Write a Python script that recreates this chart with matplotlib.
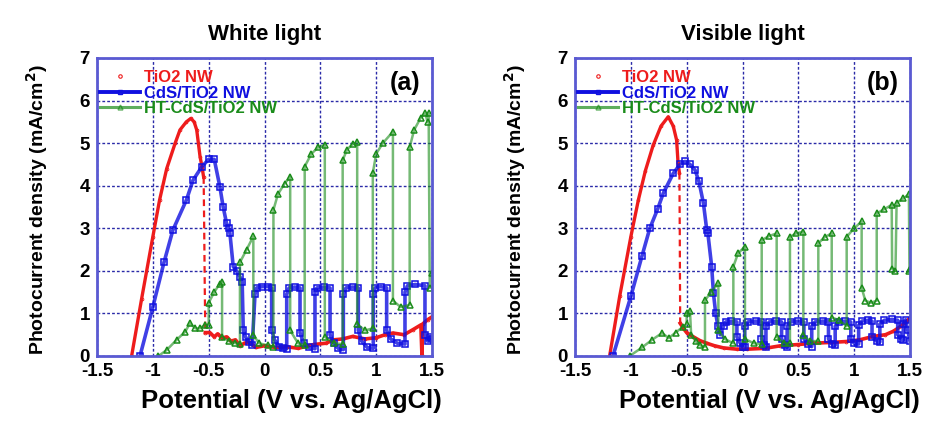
"""
Photocurrent vs potential (chopped light) for TiO2 NW, CdS/TiO2 NW and
HT-CdS/TiO2 NW under white light (a) and visible light (b).
"""

import matplotlib
matplotlib.use("Agg")
import matplotlib.pyplot as plt
from matplotlib.lines import Line2D

plt.rcParams["font.family"] = ["Liberation Sans", "DejaVu Sans"]
plt.rcParams["font.weight"] = "bold"

# ============================================================
# DATA
# ============================================================

SERIES_LABELS = ["TiO2 NW", "CdS/TiO2 NW", "HT-CdS/TiO2 NW"]
X_TICKS = [-1.5, -1, -0.5, 0, 0.5, 1, 1.5]
X_TICK_LABELS = ["-1.5", "-1", "-0.5", "0", "0.5", "1", "1.5"]
Y_TICKS = [0, 1, 2, 3, 4, 5, 6, 7]

# --- (a) White light ---
white_tio2_v = [-1.19, -1.10, -1.00, -0.94, -0.876, -0.80, -0.757, -0.70, -0.66,
                -0.63, -0.607, -0.577, -0.56, -0.545]
white_tio2_j = [0.0, 1.35, 2.8, 3.66, 4.4, 5.0, 5.31, 5.5, 5.58,
                5.5, 5.31, 4.68, 4.45, 4.2]
white_tio2_drop_v = [-0.545, -0.54, -0.535, -0.53]
white_tio2_drop_j = [4.2, 3.0, 1.6, 0.55]
white_tio2_tail_v = [-0.53, -0.49, -0.45, -0.42, -0.38, -0.34, -0.30, -0.26, -0.22,
                     -0.18, -0.13, -0.08, 0.0, 0.10, 0.20, 0.30, 0.44, 0.55, 0.62,
                     0.70, 0.79, 0.90, 1.00, 1.08, 1.15, 1.25, 1.33, 1.40, 1.41,
                     1.415, 1.46, 1.50]
white_tio2_tail_j = [0.55, 0.55, 0.45, 0.52, 0.42, 0.45, 0.35, 0.38, 0.24,
                     0.30, 0.32, 0.20, 0.24, 0.20, 0.22, 0.18, 0.27, 0.30, 0.38,
                     0.40, 0.46, 0.40, 0.43, 0.50, 0.54, 0.50, 0.62, 0.73, 0.02,
                     0.75, 0.85, 0.92]

white_cds_v = [-1.115, -1.00, -0.90, -0.82, -0.70, -0.64, -0.56, -0.50, -0.45,
               -0.40, -0.37, -0.34, -0.32, -0.31, -0.28, -0.25, -0.22, -0.20,
               -0.19, -0.17, -0.14, -0.11,
               -0.085, -0.07, -0.02, 0.03, 0.064,
               0.064, 0.09, 0.13, 0.17, 0.199,
               0.199, 0.22, 0.27, 0.318,
               0.318, 0.35, 0.40, 0.452,
               0.452, 0.47, 0.53, 0.587,
               0.587, 0.62, 0.66, 0.706,
               0.706, 0.73, 0.79, 0.840,
               0.840, 0.87, 0.92, 0.974,
               0.974, 0.99, 1.04, 1.094,
               1.094, 1.13, 1.19, 1.258,
               1.258, 1.28, 1.35, 1.437,
               1.437, 1.46, 1.48, 1.50]
white_cds_j = [0.0, 1.15, 2.2, 2.96, 3.66, 4.13, 4.45, 4.62, 4.62,
               3.98, 3.5, 3.12, 3.0, 2.89, 2.1, 2.0, 1.86, 1.75,
               0.6, 0.45, 0.32, 0.25,
               1.45, 1.6, 1.63, 1.63, 1.6,
               0.6, 0.38, 0.22, 0.18, 0.17,
               1.45, 1.6, 1.62, 1.6,
               0.55, 0.3, 0.2, 0.17,
               1.5, 1.6, 1.62, 1.6,
               0.5, 0.3, 0.18, 0.15,
               1.45, 1.6, 1.62, 1.6,
               0.6, 0.35, 0.2, 0.18,
               1.45, 1.6, 1.63, 1.6,
               0.6, 0.4, 0.3, 0.28,
               1.5, 1.65, 1.68, 1.65,
               0.5, 0.35, 0.45, 0.4]

white_ht_v = [-0.95, -0.876, -0.787, -0.71, -0.667, -0.62, -0.58, -0.53, -0.50,
              -0.50, -0.45, -0.40, -0.38,
              -0.38, -0.32, -0.26, -0.22,
              -0.22, -0.16, -0.10,
              -0.10, -0.05, 0.03, 0.08,
              0.08, 0.12, 0.18, 0.23,
              0.23, 0.30, 0.36,
              0.36, 0.42, 0.48, 0.54,
              0.54, 0.62, 0.70,
              0.70, 0.74, 0.79, 0.83,
              0.83, 0.90, 0.97,
              0.97, 1.00, 1.06, 1.15,
              1.15, 1.22, 1.30,
              1.30, 1.34, 1.40, 1.44, 1.46, 1.47,
              1.48, 1.50]
white_ht_j = [0.0, 0.14, 0.38, 0.57, 0.77, 0.65, 0.65, 0.73, 0.72,
              1.25, 1.5, 1.7, 1.75,
              0.45, 0.35, 0.3, 0.28,
              2.2, 2.5, 2.81,
              0.5, 0.3, 0.25, 0.22,
              3.43, 3.8, 4.05, 4.21,
              0.6, 0.3, 0.25,
              4.45, 4.75, 4.9, 4.96,
              0.45, 0.3, 0.28,
              4.6, 4.85, 4.98, 5.02,
              0.75, 0.6, 0.65,
              4.3, 4.75, 5.0, 5.27,
              1.3, 1.15, 1.2,
              4.9, 5.31, 5.6, 5.7, 5.5, 5.7,
              1.6, 1.95]

# --- (b) Visible light ---
vis_tio2_v = [-1.19, -1.10, -1.00, -0.933, -0.87, -0.80, -0.73, -0.665, -0.62,
              -0.59, -0.577, -0.565]
vis_tio2_j = [0.0, 1.4, 2.8, 3.66, 4.35, 4.95, 5.4, 5.62, 5.4,
              5.07, 4.53, 4.3]
vis_tio2_drop_v = [-0.565, -0.562, -0.56, -0.558]
vis_tio2_drop_j = [4.3, 3.0, 1.8, 0.77]
vis_tio2_tail_v = [-0.558, -0.53, -0.50, -0.44, -0.38, -0.32, -0.25, -0.17, -0.05,
                   0.04, 0.20, 0.34, 0.50, 0.63, 0.80, 0.93, 1.05, 1.17, 1.28,
                   1.35, 1.42, 1.50]
vis_tio2_tail_j = [0.77, 0.65, 0.55, 0.45, 0.36, 0.30, 0.24, 0.19, 0.16,
                   0.16, 0.18, 0.24, 0.27, 0.30, 0.32, 0.34, 0.38, 0.46, 0.50,
                   0.58, 0.70, 0.89]

vis_cds_v = [-1.16, -1.00, -0.90, -0.83, -0.76, -0.71, -0.62, -0.56, -0.515,
             -0.47, -0.425, -0.39, -0.35, -0.32, -0.31, -0.276, -0.26, -0.24,
             -0.22, -0.20,
             -0.17, -0.15, -0.10, -0.05,
             -0.05, -0.02, 0.00, 0.02,
             0.02, 0.05, 0.12, 0.17,
             0.17, 0.19, 0.21,
             0.21, 0.24, 0.30, 0.35,
             0.35, 0.38, 0.40,
             0.40, 0.43, 0.50, 0.55,
             0.55, 0.59, 0.62,
             0.62, 0.65, 0.72, 0.77,
             0.77, 0.80, 0.83,
             0.83, 0.86, 0.92, 0.97,
             0.97, 1.00, 1.04,
             1.04, 1.07, 1.12, 1.16,
             1.16, 1.20, 1.23,
             1.23, 1.27, 1.34, 1.39,
             1.39, 1.42, 1.44,
             1.44, 1.46, 1.48, 1.50]
vis_cds_j = [0.0, 1.4, 2.35, 3.0, 3.45, 3.82, 4.29, 4.5, 4.57,
             4.5, 4.37, 4.1, 3.59, 2.96, 2.88, 2.1, 1.47, 1.0,
             0.7, 0.5,
             0.7, 0.8, 0.82, 0.8,
             0.45, 0.3, 0.22, 0.2,
             0.7, 0.8, 0.82, 0.8,
             0.4, 0.25, 0.2,
             0.7, 0.8, 0.82, 0.8,
             0.4, 0.25, 0.2,
             0.7, 0.8, 0.82, 0.8,
             0.4, 0.28, 0.22,
             0.7, 0.8, 0.82, 0.8,
             0.4, 0.28, 0.25,
             0.7, 0.8, 0.82, 0.8,
             0.4, 0.3, 0.28,
             0.72, 0.82, 0.84, 0.82,
             0.45, 0.35, 0.33,
             0.75, 0.84, 0.86, 0.84,
             0.5, 0.4, 0.38,
             0.75, 0.85, 0.6, 0.35]

vis_ht_v = [-1.01, -0.90, -0.81, -0.72, -0.66, -0.60, -0.53, -0.50,
            -0.50, -0.47,
            -0.46, -0.42, -0.38, -0.336,
            -0.336, -0.28, -0.216,
            -0.216, -0.16, -0.082,
            -0.082, -0.04, 0.022,
            0.022, 0.10, 0.172,
            0.172, 0.24, 0.306,
            0.306, 0.37, 0.425,
            0.425, 0.48, 0.545,
            0.545, 0.60, 0.679,
            0.679, 0.74, 0.799,
            0.799, 0.86, 0.933,
            0.933, 1.00, 1.067,
            1.067, 1.10, 1.15, 1.202,
            1.202, 1.27, 1.336,
            1.34, 1.37,
            1.38, 1.44, 1.49,
            1.495, 1.50]
vis_ht_j = [0.0, 0.2, 0.38, 0.54, 0.42, 0.55, 0.69, 0.75,
            1.0, 1.05,
            0.5, 0.35, 0.25, 0.22,
            1.31, 1.5, 1.71,
            0.6, 0.4, 0.3,
            2.1, 2.41, 2.57,
            0.4, 0.3, 0.28,
            2.72, 2.82, 2.88,
            0.45, 0.3, 0.3,
            2.8, 2.88, 2.92,
            0.5, 0.35, 0.35,
            2.65, 2.8, 2.88,
            0.9, 0.85, 0.7,
            2.8, 3.0, 3.16,
            1.6, 1.3, 1.25, 1.3,
            3.35, 3.45, 3.55,
            2.05, 2.0,
            3.6, 3.7, 3.8,
            2.0, 2.05]

# ============================================================
# STYLE
# ============================================================

RED, BLUE, GREEN = "#ee1c1c", "#1010e0", "#1a8c1a"
SPINE = "#5a5ad2"
GRID = "#2a2aa8"


def draw_panel(ax, tio2, tio2_drop, tio2_tail, cds, ht, title, tag):
    # TiO2 NW: thick line of small markers, dashed at the sharp drop
    ax.plot(*tio2, color=RED, lw=2.4, marker="o", ms=2, mfc="none", mew=0.6)
    ax.plot(*tio2_drop, color=RED, lw=1.6, ls=(0, (3, 2)))
    ax.plot(*tio2_tail, color=RED, lw=2.6, marker="o", ms=2, mfc="none", mew=0.6)
    # CdS/TiO2 NW
    ax.plot(*cds, color=BLUE, lw=2.6, alpha=0.8)
    ax.plot(*cds, color=BLUE, ls="none", marker="s", ms=3.8, mfc="none", mew=1.1)
    # HT-CdS/TiO2 NW
    ax.plot(*ht, color=GREEN, lw=1.8, alpha=0.6)
    ax.plot(*ht, color=GREEN, ls="none", marker="^", ms=3.8, mfc="none", mew=1.1)

    ax.set_xlim(-1.5, 1.5)
    ax.set_ylim(0, 7)
    ax.set_xticks(X_TICKS)
    ax.set_xticklabels(X_TICK_LABELS)
    ax.set_yticks(Y_TICKS)
    ax.tick_params(length=0, labelsize=13.5, pad=5)
    for lbl in ax.get_xticklabels() + ax.get_yticklabels():
        lbl.set_fontweight("bold")

    ax.grid(True, color=GRID, ls=(0, (2, 1.5)), lw=1.0)
    ax.set_axisbelow(True)
    for sp in ax.spines.values():
        sp.set_color(SPINE)
        sp.set_linewidth(2.0)

    ax.set_title(title, fontsize=16, fontweight="bold", pad=13)
    ax.set_xlabel("Potential (V vs. Ag/AgCl)", fontsize=18.5, fontweight="bold")
    ax.xaxis.set_label_coords(0.58, -0.11)
    ax.set_ylabel("Photocurrent density (mA/cm$^\\mathbf{2}$)", fontsize=14,
                  fontweight="bold")
    ax.yaxis.set_label_coords(-0.14, 0.49)

    handles = [
        Line2D([], [], color=RED, ls="none", marker="o", ms=2.5, mfc="none", mew=0.8),
        Line2D([], [], color=BLUE, lw=2.8, marker="s", ms=3.5, mfc="none", mew=1.0),
        Line2D([], [], color=GREEN, lw=2.2, alpha=0.7, marker="^", ms=3.5,
               mfc="none", mew=1.0),
    ]
    leg = ax.legend(handles, SERIES_LABELS, loc="upper left",
                    bbox_to_anchor=(0.0, 0.97), frameon=False, fontsize=12,
                    handlelength=2.4, handletextpad=0.25, labelspacing=0.02,
                    borderaxespad=0.1, borderpad=0.1, numpoints=1)
    for txt, c in zip(leg.get_texts(), [RED, BLUE, GREEN]):
        txt.set_color(c)
        txt.set_fontweight("bold")

    ax.text(0.92, 0.915, tag, transform=ax.transAxes, ha="center", va="center",
            fontsize=18, fontweight="bold")


fig = plt.figure(figsize=(9.43, 4.25), dpi=100)
ax_a = fig.add_axes([97 / 943, 69 / 425, 335 / 943, 298 / 425])
ax_b = fig.add_axes([575 / 943, 69 / 425, 335 / 943, 298 / 425])

draw_panel(ax_a,
           (white_tio2_v, white_tio2_j),
           (white_tio2_drop_v, white_tio2_drop_j),
           (white_tio2_tail_v, white_tio2_tail_j),
           (white_cds_v, white_cds_j),
           (white_ht_v, white_ht_j),
           "White light", "(a)")
draw_panel(ax_b,
           (vis_tio2_v, vis_tio2_j),
           (vis_tio2_drop_v, vis_tio2_drop_j),
           (vis_tio2_tail_v, vis_tio2_tail_j),
           (vis_cds_v, vis_cds_j),
           (vis_ht_v, vis_ht_j),
           "Visible light", "(b)")

fig.savefig("out.png", dpi=100)
plt.close(fig)
